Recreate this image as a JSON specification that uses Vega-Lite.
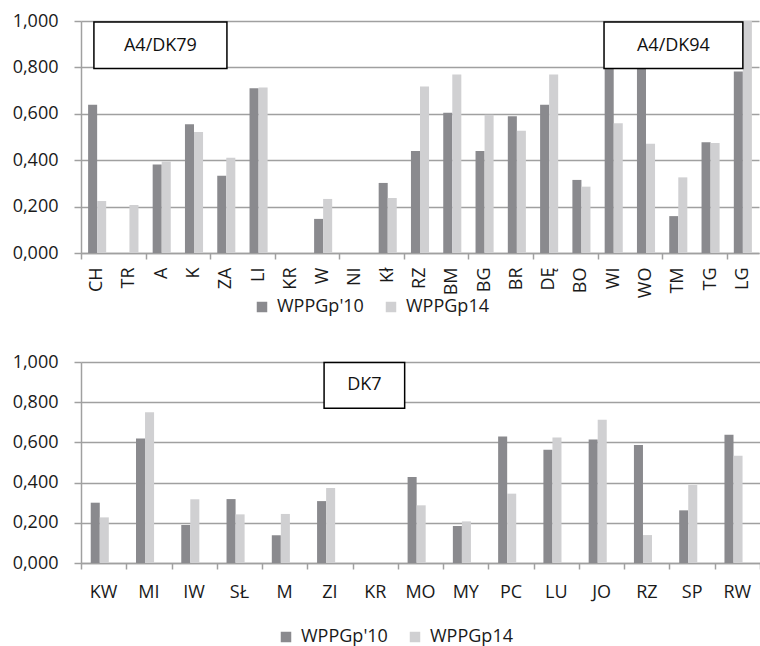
{
  "$schema": "https://vega.github.io/schema/vega-lite/v6.json",
  "padding": {"left": 12, "top": 12, "right": 2, "bottom": 0},
  "background": "white",
  "config": {
    "font": "Open Sans",
    "view": {"stroke": null},
    "axis": {"labelFont": "Open Sans", "labelFontSize": 18, "labelColor": "#1a1a1a", "domainColor": "#a0a0a0", "tickColor": "#a0a0a0", "gridColor": "#a0a0a0", "domainWidth": 1.5, "tickWidth": 1.5, "gridWidth": 1.5, "title": null},
    "legend": {"labelFont": "Open Sans", "labelFontSize": 18, "labelColor": "#1a1a1a", "symbolType": "square", "symbolSize": 110, "symbolStrokeWidth": 0, "labelOffset": 6, "columnPadding": 18, "title": null}
  },
  "datasets": {
    "top": [
      {"c": "CH", "s": "WPPGp'10", "v": 0.639}, {"c": "CH", "s": "WPPGp14", "v": 0.224},
      {"c": "TR", "s": "WPPGp14", "v": 0.207},
      {"c": "A", "s": "WPPGp'10", "v": 0.381}, {"c": "A", "s": "WPPGp14", "v": 0.394},
      {"c": "K", "s": "WPPGp'10", "v": 0.555}, {"c": "K", "s": "WPPGp14", "v": 0.522},
      {"c": "ZA", "s": "WPPGp'10", "v": 0.333}, {"c": "ZA", "s": "WPPGp14", "v": 0.411},
      {"c": "LI", "s": "WPPGp'10", "v": 0.710}, {"c": "LI", "s": "WPPGp14", "v": 0.713},
      {"c": "W", "s": "WPPGp'10", "v": 0.147}, {"c": "W", "s": "WPPGp14", "v": 0.233},
      {"c": "Kł", "s": "WPPGp'10", "v": 0.302}, {"c": "Kł", "s": "WPPGp14", "v": 0.237},
      {"c": "RZ", "s": "WPPGp'10", "v": 0.440}, {"c": "RZ", "s": "WPPGp14", "v": 0.718},
      {"c": "BM", "s": "WPPGp'10", "v": 0.605}, {"c": "BM", "s": "WPPGp14", "v": 0.769},
      {"c": "BG", "s": "WPPGp'10", "v": 0.440}, {"c": "BG", "s": "WPPGp14", "v": 0.596},
      {"c": "BR", "s": "WPPGp'10", "v": 0.589}, {"c": "BR", "s": "WPPGp14", "v": 0.527},
      {"c": "DĘ", "s": "WPPGp'10", "v": 0.639}, {"c": "DĘ", "s": "WPPGp14", "v": 0.769},
      {"c": "BO", "s": "WPPGp'10", "v": 0.315}, {"c": "BO", "s": "WPPGp14", "v": 0.286},
      {"c": "WI", "s": "WPPGp'10", "v": 0.880}, {"c": "WI", "s": "WPPGp14", "v": 0.559},
      {"c": "WO", "s": "WPPGp'10", "v": 0.920}, {"c": "WO", "s": "WPPGp14", "v": 0.471},
      {"c": "TM", "s": "WPPGp'10", "v": 0.159}, {"c": "TM", "s": "WPPGp14", "v": 0.326},
      {"c": "TG", "s": "WPPGp'10", "v": 0.477}, {"c": "TG", "s": "WPPGp14", "v": 0.474},
      {"c": "LG", "s": "WPPGp'10", "v": 0.782}, {"c": "LG", "s": "WPPGp14", "v": 1.000}
    ],
    "topBoxes": [
      {"x1": 0.4, "x2": 4.52, "xm": 2.46, "y1": 0.795, "y2": 0.996, "ym": 0.893, "label": "A4/DK79"},
      {"x1": 16.2, "x2": 20.5, "xm": 18.35, "y1": 0.795, "y2": 0.996, "ym": 0.893, "label": "A4/DK94"}
    ],
    "bottom": [
      {"c": "KW", "s": "WPPGp'10", "v": 0.300}, {"c": "KW", "s": "WPPGp14", "v": 0.227},
      {"c": "MI", "s": "WPPGp'10", "v": 0.620}, {"c": "MI", "s": "WPPGp14", "v": 0.750},
      {"c": "IW", "s": "WPPGp'10", "v": 0.189}, {"c": "IW", "s": "WPPGp14", "v": 0.317},
      {"c": "SŁ", "s": "WPPGp'10", "v": 0.318}, {"c": "SŁ", "s": "WPPGp14", "v": 0.242},
      {"c": "M", "s": "WPPGp'10", "v": 0.138}, {"c": "M", "s": "WPPGp14", "v": 0.244},
      {"c": "ZI", "s": "WPPGp'10", "v": 0.308}, {"c": "ZI", "s": "WPPGp14", "v": 0.373},
      {"c": "MO", "s": "WPPGp'10", "v": 0.428}, {"c": "MO", "s": "WPPGp14", "v": 0.287},
      {"c": "MY", "s": "WPPGp'10", "v": 0.184}, {"c": "MY", "s": "WPPGp14", "v": 0.207},
      {"c": "PC", "s": "WPPGp'10", "v": 0.629}, {"c": "PC", "s": "WPPGp14", "v": 0.345},
      {"c": "LU", "s": "WPPGp'10", "v": 0.564}, {"c": "LU", "s": "WPPGp14", "v": 0.625},
      {"c": "JO", "s": "WPPGp'10", "v": 0.615}, {"c": "JO", "s": "WPPGp14", "v": 0.713},
      {"c": "RZ", "s": "WPPGp'10", "v": 0.587}, {"c": "RZ", "s": "WPPGp14", "v": 0.139},
      {"c": "SP", "s": "WPPGp'10", "v": 0.262}, {"c": "SP", "s": "WPPGp14", "v": 0.388},
      {"c": "RW", "s": "WPPGp'10", "v": 0.638}, {"c": "RW", "s": "WPPGp14", "v": 0.534}
    ],
    "bottomBoxes": [
      {"x1": 5.37, "x2": 7.15, "xm": 6.26, "y1": 0.77, "y2": 0.997, "ym": 0.884, "label": "DK7"}
    ]
  },
  "resolve": {"scale": {"color": "independent"}, "legend": {"color": "independent"}},
  "spacing": 37,
  "vconcat": [
    {
      "width": 678,
      "height": 232,
      "resolve": {"scale": {"x": "independent"}},
      "layer": [
        {
          "data": {"name": "top"},
          "mark": {"type": "bar"},
          "encoding": {
            "x": {"field": "c", "type": "nominal", "sort": null,
              "scale": {"domain": ["CH","TR","A","K","ZA","LI","KR","W","NI","Kł","RZ","BM","BG","BR","DĘ","BO","WI","WO","TM","TG","LG"], "paddingInner": 0.44, "paddingOuter": 0.22},
              "axis": {"orient": "bottom", "labelAngle": -90, "ticks": false, "labelPadding": 14, "domain": true}},
            "xOffset": {"field": "s", "type": "nominal", "scale": {"domain": ["WPPGp'10","WPPGp14"], "padding": 0}},
            "y": {"field": "v", "type": "quantitative",
              "scale": {"domain": [0, 1], "nice": false},
              "axis": {"values": [0, 0.2, 0.4, 0.6, 0.8, 1], "format": ".3f", "labelExpr": "replace(datum.label, '.', ',')", "tickSize": 7, "labelPadding": 16, "grid": true}},
            "color": {"field": "s", "type": "nominal",
              "scale": {"domain": ["WPPGp'10","WPPGp14"], "range": ["#8a8a8e","#d0d0d2"]},
              "legend": {"orient": "none", "direction": "horizontal", "legendX": 172, "legendY": 277}}
          }
        },
        {
          "data": {"name": "topBoxes"},
          "layer": [
            {
              "mark": {"type": "rect", "fill": "white", "stroke": "#000000", "strokeWidth": 1.5},
              "encoding": {
                "x": {"field": "x1", "type": "quantitative", "scale": {"domain": [0, 21], "nice": false, "zero": false},
                  "axis": {"orient": "bottom", "values": [0,1,2,3,4,5,6,7,8,9,10,11,12,13,14,15,16,17,18,19,20,21], "labels": false, "domain": false, "grid": false, "ticks": true, "tickSize": 6}},
                "x2": {"field": "x2"},
                "y": {"field": "y1", "type": "quantitative"},
                "y2": {"field": "y2"}
              }
            },
            {
              "mark": {"type": "text", "fontSize": 18, "color": "#111111", "font": "Open Sans"},
              "encoding": {
                "x": {"field": "xm", "type": "quantitative"},
                "y": {"field": "ym", "type": "quantitative"},
                "text": {"field": "label"}
              }
            }
          ]
        }
      ]
    },
    {
      "width": 679,
      "height": 201,
      "resolve": {"scale": {"x": "independent"}},
      "layer": [
        {
          "data": {"name": "bottom"},
          "mark": {"type": "bar"},
          "encoding": {
            "x": {"field": "c", "type": "nominal", "sort": null,
              "scale": {"domain": ["KW","MI","IW","SŁ","M","ZI","KR","MO","MY","PC","LU","JO","RZ","SP","RW"], "paddingInner": 0.43, "paddingOuter": 0.215},
              "axis": {"orient": "bottom", "labelAngle": 0, "ticks": false, "labelPadding": 20, "domain": true}},
            "xOffset": {"field": "s", "type": "nominal", "scale": {"domain": ["WPPGp'10","WPPGp14"], "padding": 0}},
            "y": {"field": "v", "type": "quantitative",
              "scale": {"domain": [0, 1], "nice": false},
              "axis": {"values": [0, 0.2, 0.4, 0.6, 0.8, 1], "format": ".3f", "labelExpr": "replace(datum.label, '.', ',')", "tickSize": 7, "labelPadding": 16, "grid": true}},
            "color": {"field": "s", "type": "nominal",
              "scale": {"domain": ["WPPGp'10","WPPGp14"], "range": ["#8a8a8e","#d0d0d2"]},
              "legend": {"orient": "none", "direction": "horizontal", "legendX": 196, "legendY": 266}}
          }
        },
        {
          "data": {"name": "bottomBoxes"},
          "layer": [
            {
              "mark": {"type": "rect", "fill": "white", "stroke": "#000000", "strokeWidth": 1.5},
              "encoding": {
                "x": {"field": "x1", "type": "quantitative", "scale": {"domain": [0, 15], "nice": false, "zero": false},
                  "axis": {"orient": "bottom", "values": [0,1,2,3,4,5,6,7,8,9,10,11,12,13,14,15], "labels": false, "domain": false, "grid": false, "ticks": true, "tickSize": 6}},
                "x2": {"field": "x2"},
                "y": {"field": "y1", "type": "quantitative"},
                "y2": {"field": "y2"}
              }
            },
            {
              "mark": {"type": "text", "fontSize": 18, "color": "#111111", "font": "Open Sans"},
              "encoding": {
                "x": {"field": "xm", "type": "quantitative"},
                "y": {"field": "ym", "type": "quantitative"},
                "text": {"field": "label"}
              }
            }
          ]
        }
      ]
    }
  ]
}
